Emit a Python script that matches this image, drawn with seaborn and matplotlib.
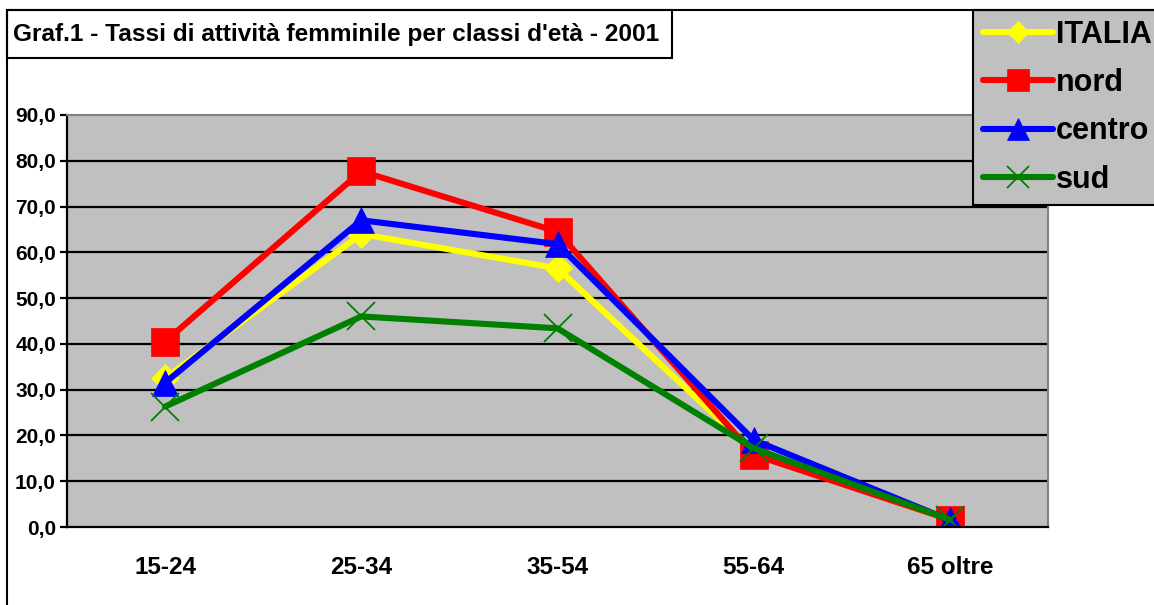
import pandas as pd
import matplotlib.pyplot as plt
import numpy as np
import seaborn as sns
from matplotlib.lines import Line2D
from matplotlib.patches import Rectangle
from matplotlib.font_manager import FontProperties

# dati: tassi di attività femminile per classi d'età - 2001
classi = ["15-24", "25-34", "35-54", "55-64", "65 oltre"]
italia = [32.5, 64.0, 56.5, 16.5, 1.5]
nord = [40.5, 77.7, 64.5, 15.8, 1.6]
centro = [31.5, 67.0, 61.8, 19.0, 1.5]
sud = [26.3, 46.0, 43.4, 17.2, 1.6]

serie = [
    ("ITALIA", italia, "#FFFF00", "D", 14, None),
    ("nord", nord, "#FF0000", "s", 20, None),
    ("centro", centro, "#0000FF", "^", 19, None),
    ("sud", sud, "#008000", "x", 20, 1.3),
]

W, H = 1154, 605
sns.set_style("white")
plt.rcParams["font.family"] = ["Liberation Sans", "DejaVu Sans"]
plt.rcParams["font.weight"] = "bold"
plt.rcParams["text.color"] = "black"
plt.rcParams["xtick.color"] = "black"
plt.rcParams["ytick.color"] = "black"

fig = plt.figure(figsize=(W / 100, H / 100), dpi=100)
ax = fig.add_axes([67 / W, 1 - 527 / H, (1048 - 67) / W, (527 - 115) / H])
ax.set_facecolor("#C0C0C0")

xpos = np.arange(len(classi))
for nome, valori, colore, marker, ms, mew in serie:
    df = pd.DataFrame({"x": xpos, "y": valori})
    sns.lineplot(data=df, x="x", y="y", ax=ax, color=colore, linewidth=4.4,
                 marker=marker, markersize=ms,
                 markeredgecolor=colore,
                 markeredgewidth=mew if mew else 0.5,
                 label=nome, sort=False)

# griglia orizzontale nera
for v in range(10, 90, 10):
    ax.axhline(v, color="black", linewidth=1.6, zorder=0.5)

ax.set_xlim(-0.5, len(classi) - 0.5)
ax.set_ylim(0, 90)
ax.set_yticks(range(0, 91, 10))
ax.set_yticklabels([f"{v:.1f}".replace(".", ",") for v in range(0, 91, 10)],
                   fontsize=15, fontweight="bold")
ax.set_xticks(xpos)
ax.set_xticklabels(classi, fontsize=17.5, fontweight="bold")
ax.set_xticks(np.arange(-0.5, len(classi), 1), minor=True)
ax.tick_params(axis="x", which="major", length=0, pad=21)
ax.tick_params(axis="x", which="minor", length=7, width=1.6, direction="out",
               color="black")
ax.tick_params(axis="y", length=5, width=1.6, direction="out", color="black",
               pad=3, left=True)
ax.set_xlabel("")
ax.set_ylabel("")

for s in ["left", "bottom"]:
    ax.spines[s].set_color("black")
    ax.spines[s].set_linewidth(1.6)
for s in ["top", "right"]:
    ax.spines[s].set_color("#808080")
    ax.spines[s].set_linewidth(1.5)

# bordo dell'area del grafico
fig.add_artist(Line2D([7 / W, 7 / W], [0, 1 - 10 / H], color="black", linewidth=1.5))
fig.add_artist(Line2D([7 / W, 1], [1 - 10 / H, 1 - 10 / H], color="black", linewidth=1.5))

# riquadro del titolo
fig.add_artist(Rectangle((7 / W, 1 - 58 / H), 665 / W, 48 / H, facecolor="white",
                         edgecolor="black", linewidth=1.5))
fig.text(13 / W, 1 - 34 / H, "Graf.1 - Tassi di attività femminile per classi d'età - 2001",
         fontsize=17.6, fontweight="bold", va="center", ha="left")

# legenda
fp = FontProperties(family=["Liberation Sans", "DejaVu Sans"], weight="bold", size=22)
leg = ax.legend(loc="upper left", bbox_to_anchor=(973 / W, 1 - 10 / H),
                bbox_transform=fig.transFigure, frameon=True, fancybox=False,
                edgecolor="black", facecolor="#C0C0C0", framealpha=1,
                prop=fp, handlelength=2.3,
                handletextpad=0.1, labelspacing=0.6, borderpad=0.32,
                borderaxespad=0, markerscale=0.8)
leg.get_frame().set_linewidth(1.5)

fig.savefig("out.png", dpi=100)
